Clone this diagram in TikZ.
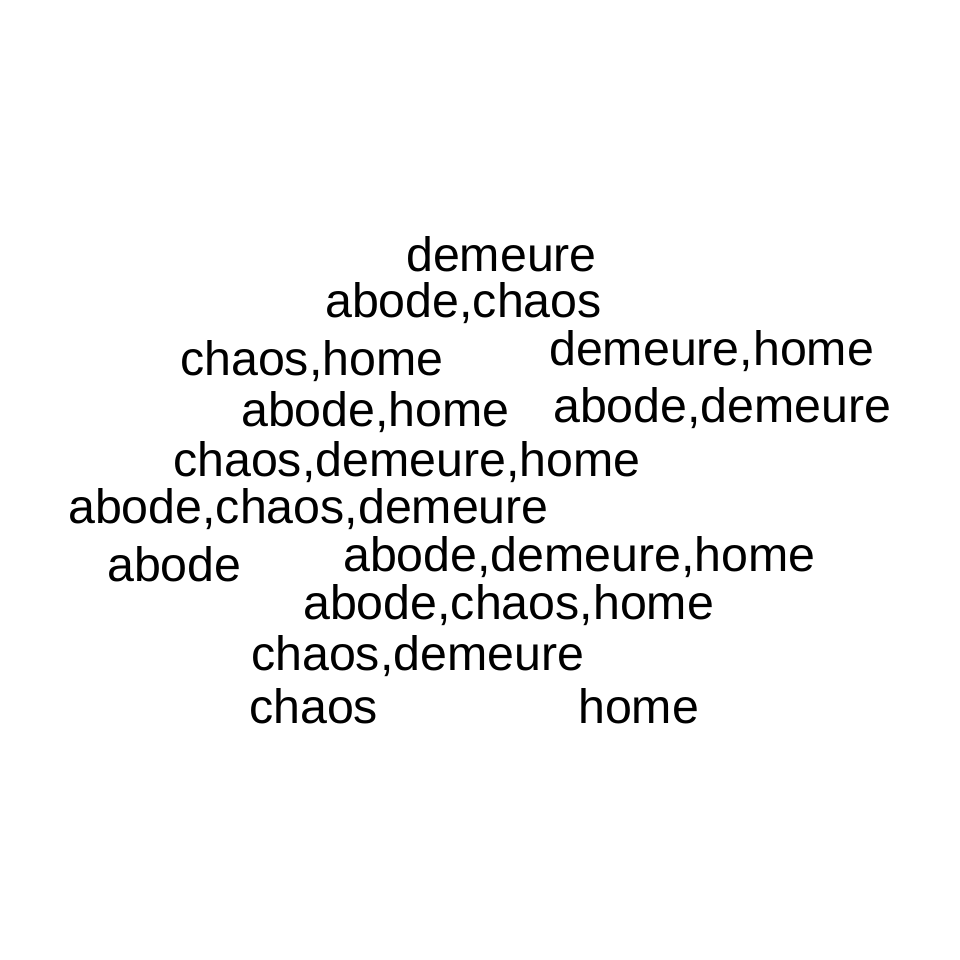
\documentclass[tikz,border=0pt]{standalone}
\usepackage{fontspec}
\setmainfont{Liberation Sans}
\usepackage{tikz}

\begin{document}
\begin{tikzpicture}[x=1pt, y=-1pt,
    word/.style={anchor=base west, inner sep=0pt, font=\fontsize{48.3}{58}\selectfont}]
    \useasboundingbox[fill=white] (0,0) rectangle (960,960);
    \node[word] (dem) at (406,271) {demeure};
    \node[word] (abch) at (325,317) {abode,chaos};
    \node[word] (chho) at (180,375) {chaos,home};
    \node[word] (demho) at (549,365) {demeure,home};
    \node[word] (abho) at (241,426) {abode,home};
    \node[word] (abdem) at (553,422) {abode,demeure};
    \node[word] (chdemho) at (173,476) {chaos,demeure,home};
    \node[word] (abchdem) at (68,523) {abode,chaos,demeure};
    \node[word] (ab) at (107,581) {abode};
    \node[word] (abdemho) at (343,571) {abode,demeure,home};
    \node[word] (abchho) at (303,619) {abode,chaos,home};
    \node[word] (chdem) at (251,670) {chaos,demeure};
    \node[word] (ch) at (249,723) {chaos};
    \node[word] (ho) at (578,723) {home};
  \end{tikzpicture}
\end{document}
